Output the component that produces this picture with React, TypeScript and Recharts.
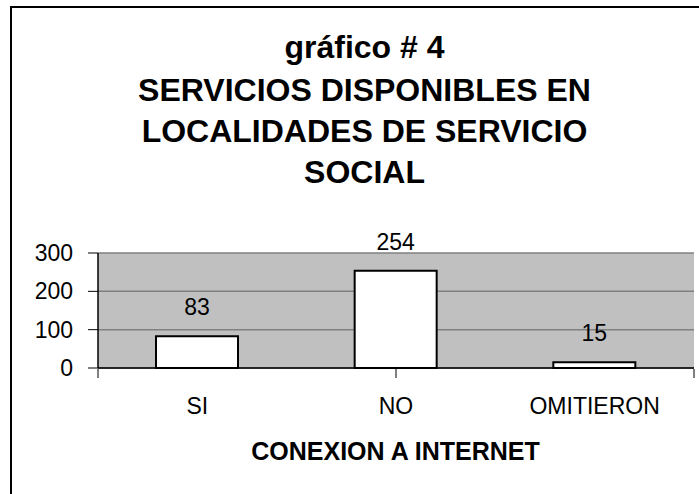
import React from 'react';
import { BarChart, Bar, XAxis, YAxis, CartesianGrid, LabelList, ReferenceLine } from 'recharts';

const categories = ['SI', 'NO', 'OMITIERON'];
const values = [83, 254, 15];
const yTicks = [0, 100, 200, 300];
// category boundaries, where the little tick marks sit under the axis
const edgeTicks = [0, 1, 2, 3];

const titleLines = ['gráfico # 4', 'SERVICIOS DISPONIBLES EN', 'LOCALIDADES DE SERVICIO', 'SOCIAL'];
const axisTitle = 'CONEXION A INTERNET';

const data = categories.map((name, i) => ({ name, value: values[i] }));

const FONT = '"Liberation Sans", Arial, sans-serif';

export default function App() {
  return (
    <div style={{ position: 'absolute', left: 0, top: 0, width: 699, height: 494, overflow: 'hidden', background: '#fff' }}>
      {/* frame + titles behind the chart */}
      <svg width={699} height={494} style={{ position: 'absolute', left: 0, top: 0 }}>
        <rect x={11} y={7} width={1000} height={1000} fill="none" stroke="#000" strokeWidth={2} />
        {titleLines.map((t, i) => (
          <text key={t} x={364.5} y={[58, 101, 142, 183][i]} textAnchor="middle" fontFamily={FONT} fontWeight="bold" fontSize={32} fill="#000">
            {t}
          </text>
        ))}
        <text x={395.5} y={460} textAnchor="middle" fontFamily={FONT} fontWeight="bold" fontSize={25} fill="#000">
          {axisTitle}
        </text>
      </svg>
      <div style={{ position: 'absolute', left: 0, top: 0 }}>
        <BarChart width={699} height={494} data={data} margin={{ top: 253, right: 5, bottom: 124, left: 0 }} style={{ fontFamily: FONT }}>
          <CartesianGrid xAxisId="cat" vertical={false} fill="#C0C0C0" stroke="#808080" strokeWidth={1.5} fillOpacity={1} />
          <XAxis xAxisId="cat" dataKey="name" height={1} interval={0} tickLine={false} tickSize={0} tickMargin={30} axisLine={{ stroke: '#000', strokeWidth: 1.5 }} tick={{ fill: '#000', fontSize: 23 }} />
          <XAxis xAxisId="edge" type="number" domain={[0, 3]} ticks={edgeTicks} allowDataOverflow interval={0} height={1} tickFormatter={() => ''} tick={{ fill: 'none', fontSize: 1 }} axisLine={false} tickLine={{ stroke: '#000', strokeWidth: 1 }} tickSize={9} />
          <YAxis domain={[0, 300]} ticks={yTicks} width={98} tickSize={10} tickMargin={15} axisLine={{ stroke: '#000', strokeWidth: 1.5 }} tickLine={{ stroke: '#000' }} tick={{ fill: '#000', fontSize: 23 }} />
          <ReferenceLine xAxisId="edge" x={3} stroke="#808080" strokeWidth={2} ifOverflow="extendDomain" />
          <Bar xAxisId="cat" dataKey="value" fill="#fff" stroke="#000" strokeWidth={2} barSize={82} isAnimationActive={false}>
            <LabelList dataKey="value" position="top" offset={21} fill="#000" fontSize={23} />
          </Bar>
        </BarChart>
      </div>
    </div>
  );
}
